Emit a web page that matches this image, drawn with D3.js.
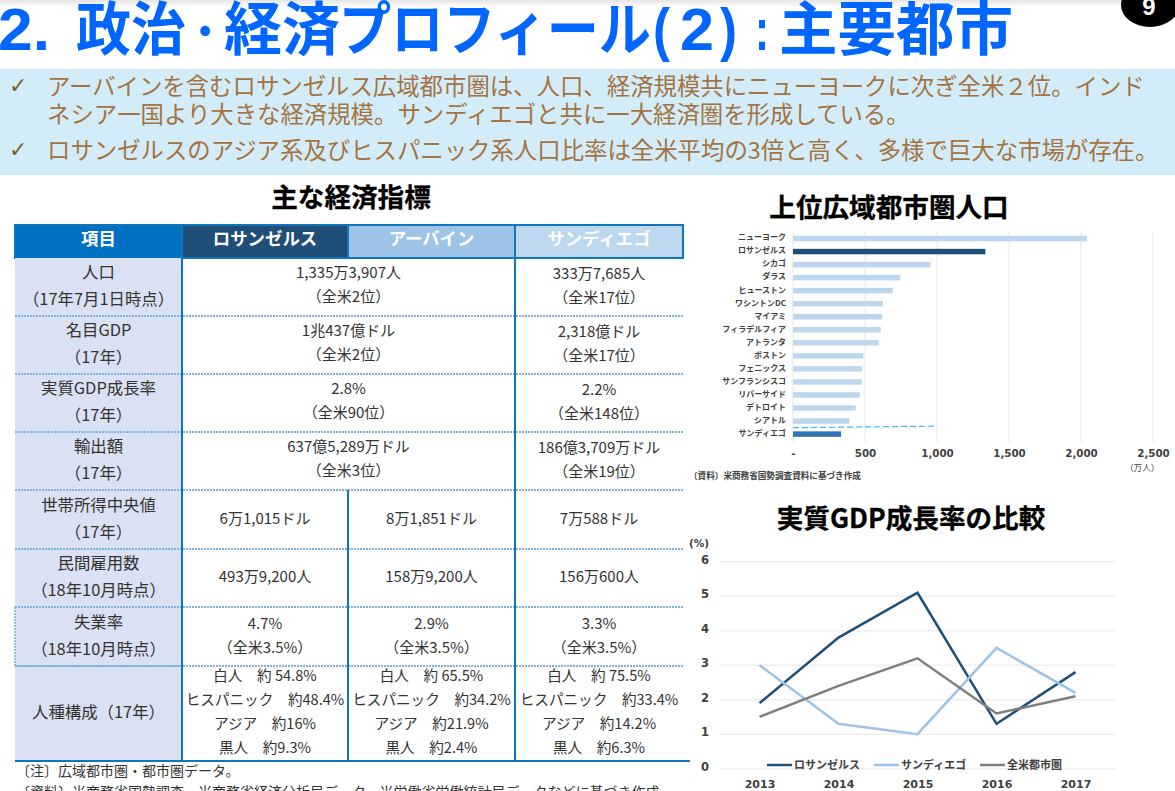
<!DOCTYPE html>
<html>
<head>
    <meta charset="utf-8">
    <title>政治・経済プロフィール（2）</title>
    <script src="https://d3js.org/d3.v7.min.js"></script>
    <style>
        html, body { margin: 0; padding: 0; background: #fff; overflow: hidden; }
        svg { display: block; }
        text { font-family: "Noto Sans CJK JP", "Noto Sans", sans-serif; }
        .heading { font-size: 26.6px; font-weight: 700; fill: #000; stroke: #000; stroke-width: 0.3px; text-anchor: middle; }
        .lead { font-size: 23.4px; fill: #a5733f; }
        .cell { font-size: 15px; fill: #333; text-anchor: middle; }
        .race { font-size: 14.6px; fill: #333; text-anchor: middle; }
        .rowlabel { font-size: 16.4px; fill: #333; text-anchor: middle; }
        .headcell { font-size: 17.4px; font-weight: 700; fill: #fff; text-anchor: middle; }
        .axis path { display: none; }
        .axis line { display: none; }
        .bar-axis text { font-size: 8px; font-weight: 700; fill: #404040; }
        .num-axis text { font-family: "DejaVu Sans", sans-serif; font-size: 10.3px; font-weight: 700; fill: #404040; }
        .note { font-size: 8.6px; font-weight: 700; fill: #404040; }
    </style>
</head>
<body>
<div id="vis_container"></div>
<script>
    // population bar chart
    var cities = ["ニューヨーク","ロサンゼルス","シカゴ","ダラス","ヒューストン","ワシントンDC","マイアミ","フィラデルフィア","アトランタ","ボストン","フェニックス","サンフランシスコ","リバーサイド","デトロイト","シアトル","サンディエゴ"];
    var population = [2040,1336,955,745,693,625,620,610,595,488,478,478,463,435,392,334];
    var popTicks = [0,500,1000,1500,2000,2500];

    // gdp growth line chart
    var years = ["2013","2014","2015","2016","2017"];
    var gdpLA = [1.9,3.8,5.1,1.3,2.8];
    var gdpSD = [3.0,1.3,1.0,3.5,2.2];
    var gdpUS = [1.5,2.4,3.2,1.6,2.1];
    var gdpNames = ["ロサンゼルス","サンディエゴ","全米都市圏"];
    var gdpTicks = [0,1,2,3,4,5,6];

    // table
    var tableHead = ["項目","ロサンゼルス","アーバイン","サンディエゴ"];
    var rowLabels = [
        ["人口","（17年7月1日時点）"],
        ["名目GDP","（17年）"],
        ["実質GDP成長率","（17年）"],
        ["輸出額","（17年）"],
        ["世帯所得中央値","（17年）"],
        ["民間雇用数","（18年10月時点）"],
        ["失業率","（18年10月時点）"],
        ["人種構成（17年）"]
    ];
    var colLA = [
        ["1,335万3,907人","（全米2位）"],
        ["1兆437億ドル","（全米2位）"],
        ["2.8%","（全米90位）"],
        ["637億5,289万ドル","（全米3位）"],
        ["6万1,015ドル"],
        ["493万9,200人"],
        ["4.7%","（全米3.5%）"],
        ["白人　約 54.8%","ヒスパニック　約48.4%","アジア　約16%","黒人　約9.3%"]
    ];
    var colIrvine = [
        null, null, null, null,
        ["8万1,851ドル"],
        ["158万9,200人"],
        ["2.9%","（全米3.5%）"],
        ["白人　約 65.5%","ヒスパニック　約34.2%","アジア　約21.9%","黒人　約2.4%"]
    ];
    var colSD = [
        ["333万7,685人","（全米17位）"],
        ["2,318億ドル","（全米17位）"],
        ["2.2%","（全米148位）"],
        ["186億3,709万ドル","（全米19位）"],
        ["7万588ドル"],
        ["156万600人"],
        ["3.3%","（全米3.5%）"],
        ["白人　約 75.5%","ヒスパニック　約33.4%","アジア　約14.2%","黒人　約6.3%"]
    ];

    var width = 1175;
    var height = 791;

    var svg = d3.select("#vis_container")
            .append("svg")
            .attr("width", width)
            .attr("height", height);

    //faint shadow along the top of the slide
    var grad = svg.append("defs").append("linearGradient")
            .attr("id", "topshade")
            .attr("x1", 0).attr("y1", 0).attr("x2", 0).attr("y2", 1);
    grad.append("stop").attr("offset", 0).attr("stop-color", "#e4e4e4");
    grad.append("stop").attr("offset", 1).attr("stop-color", "#ffffff");
    svg.append("rect").attr("width", width).attr("height", 7).style("fill", "url(#topshade)");

    //title, set in pieces because the original spacing is uneven
    var titleParts = [
        {t:"2.", x:-2, w:52, size:60, y:50, latin:true},
        {t:"政治", x:76, w:110, size:58, y:50},
        {t:"・", x:186, w:38, size:40, y:46},
        {t:"経済", x:224, w:116, size:58, y:50},
        {t:"プロフィール", x:339, w:312, size:58, y:50},
        {t:"(", x:653, w:17, size:60, y:50, latin:true},
        {t:"2", x:680, w:34, size:60, y:50, latin:true},
        {t:")", x:720, w:17, size:60, y:50, latin:true},
        {t:":", x:755, w:14, size:60, y:50, latin:true},
        {t:"主要都市", x:779, w:234, size:58, y:50}
    ];
    svg.selectAll(".title").data(titleParts).enter().append("text")
            .attr("class", "title")
            .attr("x", function(d) { return d.x; })
            .attr("y", function(d) { return d.y; })
            .attr("textLength", function(d) { return d.w; })
            .attr("lengthAdjust", "spacingAndGlyphs")
            .style("font-family", function(d) { return d.latin ? "'Liberation Sans'" : null; })
            .style("font-size", function(d) { return d.size + "px"; })
            .style("font-weight", 700)
            .style("fill", "#0066ff")
            .text(function(d) { return d.t; });

    //page number badge
    svg.append("ellipse").attr("cx", 1150).attr("cy", 5).attr("rx", 29).attr("ry", 22).style("fill", "#000");
    svg.append("text").attr("x", 1149).attr("y", 15).attr("text-anchor", "middle")
            .style("font-family", "'Liberation Sans'").style("font-size", "24px").style("font-weight", 700)
            .style("fill", "#fff").text("9");

    //lead band
    svg.append("rect").attr("x", 0).attr("y", 69).attr("width", width).attr("height", 106).style("fill", "#d2edf9");
    var leadLines = [
        {t:"アーバインを含むロサンゼルス広域都市圏は、人口、経済規模共にニューヨークに次ぎ全米２位。インド", y:95},
        {t:"ネシア一国より大きな経済規模。サンディエゴと共に一大経済圏を形成している。", y:123},
        {t:"ロサンゼルスのアジア系及びヒスパニック系人口比率は全米平均の3倍と高く、多様で巨大な市場が存在。", y:159}
    ];
    svg.selectAll(".lead").data(leadLines).enter().append("text")
            .attr("class", "lead")
            .attr("x", 47)
            .attr("y", function(d) { return d.y; })
            .text(function(d) { return d.t; });
    svg.selectAll(".check").data([94,158]).enter().append("text")
            .attr("class", "check")
            .attr("x", 9)
            .attr("y", function(d) { return d - 1; })
            .style("font-family", "'DejaVu Sans'").style("font-size", "22px").style("font-weight", 700).style("fill", "#7a5a22")
            .text("✓");

    svg.append("text").attr("class", "heading").attr("x", 351).attr("y", 207).text("主な経済指標");
    svg.append("text").attr("class", "heading").attr("x", 889).attr("y", 217).text("上位広域都市圏人口");
    svg.append("text").attr("class", "heading").attr("x", 911).attr("y", 528).text("実質GDP成長率の比較");

    //main indicators table
    var colX = [15,182,348,515,683];
    var rowY = [258,316,374,432,490,549,607,666,761];
    var headFill = ["#0070c0","#1f4e79","#9dc3e6","#bdd7ee"];
    var tableBlue = "#0f75bd";

    svg.selectAll(".headbg").data(tableHead).enter().append("rect")
            .attr("x", function(d,i) { return colX[i]; })
            .attr("y", 225)
            .attr("width", function(d,i) { return colX[i+1]-colX[i]; })
            .attr("height", 33)
            .style("fill", function(d,i) { return headFill[i]; })
            .style("stroke", tableBlue)
            .style("stroke-width", 2);
    svg.selectAll(".headcell").data(tableHead).enter().append("text")
            .attr("class", "headcell")
            .attr("x", function(d,i) { return (colX[i]+colX[i+1])/2; })
            .attr("y", 245)
            .text(function(d) { return d; });

    svg.append("rect").attr("x", colX[0]).attr("y", rowY[0])
            .attr("width", colX[1]-colX[0]).attr("height", rowY[8]-rowY[0])
            .style("fill", "#d9e1f2");

    //multi line cell text, centred on the row
    function putLines(lines, cx, cy, step, cls) {
        lines.forEach(function(s, i) {
            svg.append("text")
                    .attr("class", cls)
                    .attr("x", cx)
                    .attr("y", cy + (i-(lines.length-1)/2)*step + 5)
                    .text(s);
        });
    }

    rowLabels.forEach(function(lines, r) {
        var cy = (rowY[r]+rowY[r+1])/2;
        var cls = colLA[r].length > 2 ? "race" : "cell";
        var vy = colLA[r].length > 2 ? cy-1.5 : cy-1;
        putLines(lines, (colX[0]+colX[1])/2, cy-0.5, 27, "rowlabel");
        if (colIrvine[r] === null) {
            putLines(colLA[r], (colX[1]+colX[3])/2, vy-1, 24, cls);
        } else {
            putLines(colLA[r], (colX[1]+colX[2])/2, vy, 24, cls);
            putLines(colIrvine[r], (colX[2]+colX[3])/2, vy, 24, cls);
        }
        putLines(colSD[r], (colX[3]+colX[4])/2, vy, 24, cls);
    });

    //row rules are dotted light blue, column rules solid
    svg.selectAll(".rowrule").data(rowY.slice(1,8)).enter().append("line")
            .attr("class", "rowrule")
            .attr("x1", colX[0]).attr("x2", colX[4])
            .attr("y1", function(d) { return d; }).attr("y2", function(d) { return d; })
            .style("stroke", "#7fb2dd")
            .style("stroke-width", 2)
            .style("stroke-dasharray", "2,1");
    svg.append("rect").attr("x", colX[0]).attr("y", rowY[6])
            .attr("width", colX[1]-colX[0]).attr("height", rowY[7]-rowY[6])
            .style("fill", "none").style("stroke", "#7fb2dd").style("stroke-width", 1.5).style("stroke-dasharray", "2,1");
    [colX[1],colX[3]].forEach(function(x) {
        svg.append("line").attr("x1", x).attr("x2", x).attr("y1", rowY[0]).attr("y2", rowY[8])
                .style("stroke", tableBlue).style("stroke-width", 2);
    });
    svg.append("line").attr("x1", colX[2]).attr("x2", colX[2]).attr("y1", rowY[4]).attr("y2", rowY[8])
            .style("stroke", tableBlue).style("stroke-width", 2);
    svg.append("line").attr("x1", colX[0]).attr("x2", 690).attr("y1", rowY[8]).attr("y2", rowY[8])
            .style("stroke", tableBlue).style("stroke-width", 2);

    svg.append("text").attr("x", 16).attr("y", 776).style("font-size", "14px").style("fill", "#333")
            .text("〔注〕広域都市圏・都市圏データ。");
    svg.append("text").attr("x", 16).attr("y", 797).style("font-size", "14px").style("fill", "#333")
            .text("〔資料〕米商務省国勢調査、米商務省経済分析局データ、米労働省労働統計局データなどに基づき作成");

    //population bars
    var barX = d3.scaleLinear().domain([0,2500]).range([793,1153]);
    var barY = d3.scaleBand().domain(cities).range([232,440.6]).paddingInner(0.58).paddingOuter(0.29);

    svg.selectAll(".grid").data(popTicks).enter().append("line")
            .attr("class", "grid")
            .attr("x1", function(d) { return barX(d); }).attr("x2", function(d) { return barX(d); })
            .attr("y1", 232).attr("y2", 442)
            .style("stroke", "#e6e6e6");

    svg.selectAll(".bar").data(population).enter().append("rect")
            .attr("class", "bar")
            .attr("x", barX(0))
            .attr("y", function(d,i) { return barY(cities[i]); })
            .attr("width", function(d) { return barX(d)-barX(0); })
            .attr("height", barY.bandwidth())
            .style("fill", function(d,i) {
                if (cities[i] == "ロサンゼルス") return "#1f4e79";
                if (cities[i] == "サンディエゴ") return "#2e75b6";
                return "#bdd7ee";
            });

    svg.append("g")
            .attr("class", "axis bar-axis")
            .attr("transform", "translate(786,-0.7)")
            .call(d3.axisLeft(barY).tickSize(0).tickPadding(0));

    svg.append("g")
            .attr("class", "axis num-axis")
            .attr("transform", "translate(0,442)")
            .call(d3.axisBottom(barX).tickValues(popTicks).tickSize(0).tickPadding(8)
                .tickFormat(function(d) { return d == 0 ? "-" : d3.format(",")(d); }));

    //callout separating the San Diego bar
    svg.append("line")
            .attr("x1", barX(0)).attr("x2", barX(1000))
            .attr("y1", barY("シアトル")+barY.step()*0.72).attr("y2", barY("シアトル")+barY.step()*0.6)
            .style("stroke", "#45b5ea").style("stroke-width", 1.2).style("stroke-dasharray", "6,3");

    svg.append("text").attr("class", "note").attr("x", 1125).attr("y", 471).style("font-weight", 400).text("（万人）");
    svg.append("text").attr("class", "note").attr("x", 689).attr("y", 479).text("〔資料〕米商務省国勢調査資料に基づき作成");

    //gdp growth lines
    var lineX = d3.scalePoint().domain(years).range([720,1115]).padding(0.5);
    var lineY = d3.scaleLinear().domain([0,6]).range([768.7,561.7]);

    svg.selectAll(".hgrid").data(gdpTicks).enter().append("line")
            .attr("class", "hgrid")
            .attr("x1", 720).attr("x2", 1115)
            .attr("y1", function(d) { return lineY(d); }).attr("y2", function(d) { return lineY(d); })
            .style("stroke", "#efefef")
            .style("stroke-width", 1.4);

    var gdpSeries = [gdpLA, gdpSD, gdpUS];
    var gdpColors = ["#1f4e79","#9dc3e6","#7f7f7f"];
    var line = d3.line()
            .x(function(d,i) { return lineX(years[i]); })
            .y(function(d) { return lineY(d); });

    svg.selectAll(".gdp").data(gdpSeries).enter().append("path")
            .attr("class", "gdp")
            .attr("d", line)
            .style("fill", "none")
            .style("stroke", function(d,i) { return gdpColors[i]; })
            .style("stroke-width", 2.5);

    svg.append("g")
            .attr("class", "axis num-axis")
            .attr("transform", "translate(709,-2)")
            .call(d3.axisLeft(lineY).tickValues(gdpTicks).tickFormat(d3.format("d")).tickSize(0).tickPadding(0))
            .selectAll("text").style("font-size", "11.5px");

    svg.append("g")
            .attr("class", "axis num-axis")
            .attr("transform", "translate(0,772)")
            .call(d3.axisBottom(lineX).tickSize(0).tickPadding(8))
            .selectAll("text").style("font-size", "11px");

    svg.append("text").attr("x", 689).attr("y", 547)
            .style("font-family", "'DejaVu Sans'").style("font-size", "10.5px").style("font-weight", 700).style("fill", "#404040")
            .text("(%)");

    //legend
    var legendX = [767,874,980];
    gdpNames.forEach(function(name, i) {
        svg.append("line")
                .attr("x1", legendX[i]).attr("x2", legendX[i]+25)
                .attr("y1", 765).attr("y2", 765)
                .style("stroke", gdpColors[i]).style("stroke-width", 2.5);
        svg.append("text")
                .attr("x", legendX[i]+27).attr("y", 769)
                .style("font-size", "11px").style("font-weight", 700).style("fill", "#404040")
                .text(name);
    });
</script>
</body>
</html>
